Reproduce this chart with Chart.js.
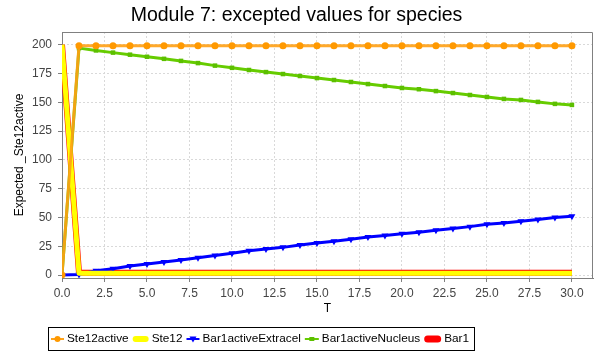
<!DOCTYPE html>
<html><head><meta charset="utf-8">
<script src="https://cdn.jsdelivr.net/npm/chart.js@4"></script>
<style>html,body{margin:0;padding:0;background:#fff}</style>
</head><body>
<canvas id="c" width="609" height="352"></canvas>
<script>
// ---- data ----
const times = [0,1,2,3,4,5,6,7,8,9,10,11,12,13,14,15,16,17,18,19,20,21,22,23,24,25,26,27,28,29,30];
const ste12active = [0,199,199,199,199,199,199,199,199,199,199,199,199,199,199,199,199,199,199,199,199,199,199,199,199,199,199,199,199,199,199];
const ste12 = [200,1.5,1.5,1.5,1.5,1.5,1.5,1.5,1.5,1.5,1.5,1.5,1.5,1.5,1.5,1.5,1.5,1.5,1.5,1.5,1.5,1.5,1.5,1.5,1.5,1.5,1.5,1.5,1.5,1.5,1.5];
const bar1activeExtracel = [0,0.5,3.7,5.5,7.8,9.5,11.2,13,15,17,18.8,21,22.5,24,26,27.7,29.4,31,32.9,34.3,35.8,37.2,38.9,40.4,42,44,45.2,46.7,48.2,49.9,51];
const bar1activeNucleus = [0,197,195,193.1,191.3,189.5,187.7,185.9,184,181.8,179.9,178,176.2,174.5,172.8,171,169.3,167.6,165.8,164.1,162.4,161.3,159.7,158,156.3,154.6,152.9,152,150.3,148.6,147.7];
const bar1 = [200,2,2,2,2,2,2,2,2,2,2,2,2,2,2,2,2,2,2,2,2,2,2,2,2,2,2,2,2,2,2];
const seriesNames = ['Ste12active','Ste12','Bar1activeExtracel','Bar1activeNucleus','Bar1'];
const xTicks = [0,2.5,5,7.5,10,12.5,15,17.5,20,22.5,25,27.5,30];
const yTicks = [0,25,50,75,100,125,150,175,200];
const chartTitle = 'Module 7: excepted values for species';
const xTitle = 'T';
const yTitle = 'Expected _Ste12active';

const FONT = "'Liberation Sans', Arial, sans-serif";
const pts = arr => times.map((t, i) => ({x: t, y: arr[i]}));

const legendStyles = [
  {kind:'marker', w:13, line:'#ffa31a', lw:2, marker:'circle', mc:'#ff9900'},
  {kind:'thick', w:16, line:'#ffff00', lw:6},
  {kind:'marker', w:13, line:'#0000ff', lw:2, marker:'tri', mc:'#0000ff'},
  {kind:'marker', w:14, line:'#66cc00', lw:2, marker:'rect', mc:'#5cbf00'},
  {kind:'thick', w:17, line:'#ff0000', lw:7}
];

const boxLegend = {
  id: 'boxLegend',
  afterDraw(chart) {
    const ctx = chart.ctx;
    ctx.save();
    ctx.font = '11.8px ' + FONT;
    const labels = chart.data.datasets.map(d => d.label);
    const widths = labels.map(l => ctx.measureText(l).width);
    let total = 3 + 5;
    labels.forEach((l, i) => { total += legendStyles[i].w + 3 + widths[i]; if (i) total += 4; });
    const left = 48, top = 327, h = 23;
    ctx.strokeStyle = '#000'; ctx.lineWidth = 1;
    ctx.strokeRect(left + 0.5, top + 0.5, Math.round(total), h);
    const cy = top + h / 2 + 0.5;
    let x = left + 3;
    labels.forEach((l, i) => {
      const s = legendStyles[i];
      ctx.lineCap = s.kind === 'thick' ? 'round' : 'butt';
      ctx.strokeStyle = s.line; ctx.lineWidth = s.lw;
      ctx.beginPath();
      if (s.kind === 'thick') { ctx.moveTo(x + s.lw/2, cy); ctx.lineTo(x + s.w - s.lw/2, cy); }
      else { ctx.moveTo(x, cy); ctx.lineTo(x + s.w, cy); }
      ctx.stroke();
      const mx = x + s.w / 2;
      ctx.fillStyle = s.mc || s.line;
      if (s.marker === 'circle') { ctx.beginPath(); ctx.arc(mx, cy, 3, 0, Math.PI*2); ctx.fill(); }
      if (s.marker === 'tri') { ctx.beginPath(); ctx.moveTo(mx-3.5, cy-2.5); ctx.lineTo(mx+3.5, cy-2.5); ctx.lineTo(mx, cy+3.5); ctx.closePath(); ctx.fill(); }
      if (s.marker === 'rect') { ctx.fillRect(mx-2.5, cy-2, 5, 4); }
      x += s.w + 3;
      ctx.fillStyle = '#000'; ctx.textBaseline = 'middle'; ctx.textAlign = 'left';
      ctx.fillText(l, x, cy);
      x += widths[i] + 4;
    });
    ctx.restore();
  }
};

const outline = {
  id: 'outline',
  beforeDatasetsDraw(chart) {
    const {ctx, chartArea: a} = chart;
    ctx.save();
    ctx.strokeStyle = '#808080'; ctx.lineWidth = 1;
    ctx.beginPath();
    ctx.moveTo(a.left, a.top + 0.5); ctx.lineTo(a.right - 0.5, a.top + 0.5); ctx.lineTo(a.right - 0.5, a.bottom);
    ctx.stroke();
    ctx.restore();
  }
};

new Chart(document.getElementById('c'), {
  type: 'line',
  data: {
    datasets: [
      {label: seriesNames[0], data: pts(ste12active), borderColor: 'rgba(255,160,20,0.9)', borderWidth: 3,
       pointStyle: 'circle', pointRadius: 3.5, pointBackgroundColor: '#ff9900', pointBorderColor: '#ff9900', pointBorderWidth: 0, clip: 0},
      {label: seriesNames[1], data: pts(ste12), borderColor: '#ffff00', borderWidth: 5, pointRadius: 0, borderJoinStyle: 'round', clip: 0},
      {label: seriesNames[2], data: pts(bar1activeExtracel), borderColor: '#0000ff', borderWidth: 3,
       pointStyle: 'triangle', pointRotation: 180, pointRadius: 4, pointBackgroundColor: '#0000ff', pointBorderColor: '#0000ff', pointBorderWidth: 0, clip: 0},
      {label: seriesNames[3], data: pts(bar1activeNucleus), borderColor: '#66cc00', borderWidth: 3,
       pointStyle: 'rect', pointRadius: 3.2, pointBackgroundColor: '#5cbf00', pointBorderColor: '#5cbf00', pointBorderWidth: 0, clip: 0},
      {label: seriesNames[4], data: pts(bar1), borderColor: '#ff0000', borderWidth: 6, pointRadius: 0, borderJoinStyle: 'round', clip: 0}
    ]
  },
  options: {
    responsive: false,
    devicePixelRatio: 1,
    animation: false,
    events: [],
    layout: {padding: {left: 0, right: 16, top: 0, bottom: 0}},
    elements: {line: {tension: 0}},
    plugins: {
      legend: {display: false},
      tooltip: {enabled: false},
      title: {display: true, text: chartTitle, color: '#000',
              font: {family: FONT, size: 19.5, weight: 'normal', lineHeight: 1.2}, padding: {top: 4, bottom: 4.6}}
    },
    scales: {
      x: {
        type: 'linear', min: 0, max: 31.24,
        afterBuildTicks: s => { s.ticks = xTicks.map(v => ({value: v})); },
        afterFit: s => { s.height = 74; },
        ticks: {color: '#444', font: {family: FONT, size: 12}, padding: 4, maxRotation: 0, autoSkip: false,
                callback: v => Number(v).toFixed(1)},
        grid: {color: '#d9d9d9', tickColor: '#808080', tickLength: 4, tickBorderDash: []},
        border: {display: true, color: '#808080', width: 1, dash: [2, 2]},
        title: {display: true, text: xTitle, color: '#000', font: {family: FONT, size: 12}, padding: {top: 0, bottom: 36}}
      },
      y: {
        type: 'linear', min: -2.6, max: 211,
        afterBuildTicks: s => { s.ticks = yTicks.map(v => ({value: v})); },
        afterFit: s => { s.width = 62; },
        ticks: {color: '#444', font: {family: FONT, size: 12}, padding: 6, autoSkip: false},
        grid: {color: '#d9d9d9', tickColor: '#808080', tickLength: 4, tickBorderDash: []},
        border: {display: true, color: '#808080', width: 1, dash: [2, 2]},
        title: {display: true, text: yTitle, color: '#000', font: {family: FONT, size: 12}, padding: {top: 12, bottom: 0}}
      }
    }
  },
  plugins: [outline, boxLegend]
});
</script>
</body></html>
